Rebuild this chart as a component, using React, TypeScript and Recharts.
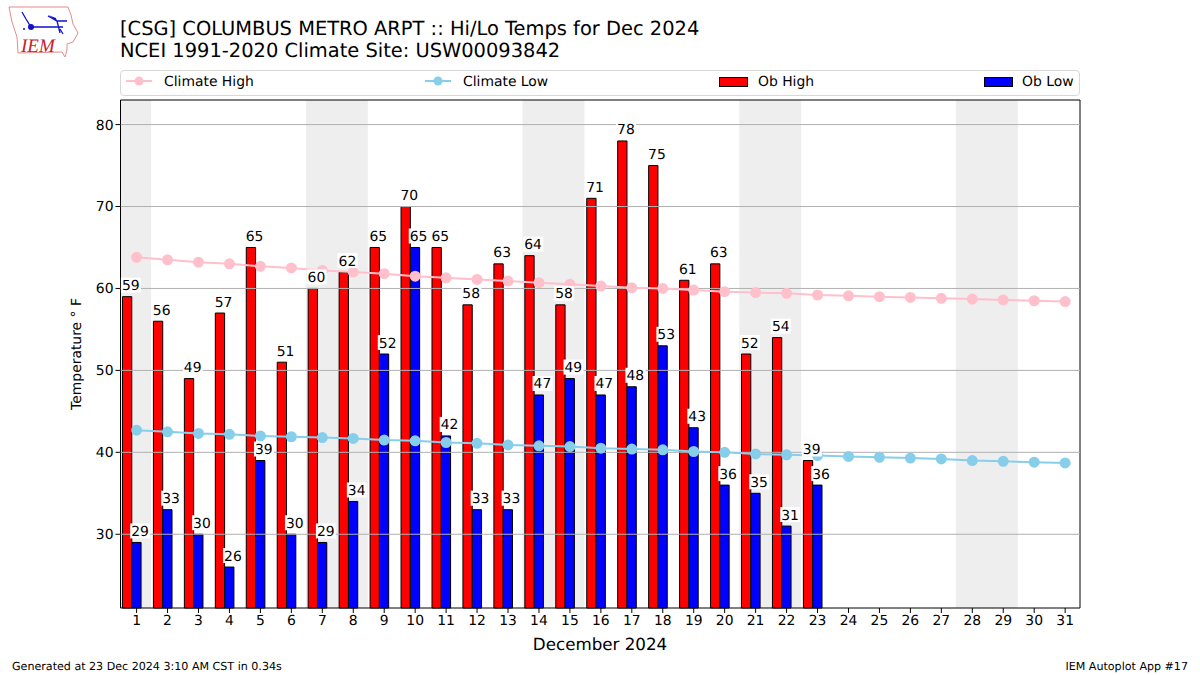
import { ComposedChart, Bar, Line, XAxis, YAxis, ReferenceArea, ReferenceLine, LabelList, Rectangle } from "recharts";

const FONT = "'DejaVu Sans', sans-serif";

const days = Array.from({ length: 31 }, (_, i) => i + 1);
const obHigh = [59, 56, 49, 57, 65, 51, 60, 62, 65, 70, 65, 58, 63, 64, 58, 71, 78, 75, 61, 63, 52, 54, 39];
const obLow = [29, 33, 30, 26, 39, 30, 29, 34, 52, 65, 42, 33, 33, 47, 49, 47, 48, 53, 43, 36, 35, 31, 36];
const climateHigh = [63.8, 63.5, 63.2, 63.0, 62.7, 62.5, 62.2, 62.0, 61.8, 61.5, 61.3, 61.1, 60.9, 60.7, 60.5, 60.3, 60.1, 60.0, 59.8, 59.6, 59.5, 59.4, 59.2, 59.1, 59.0, 58.9, 58.8, 58.7, 58.6, 58.5, 58.4];
const climateLow = [42.7, 42.5, 42.3, 42.2, 42.0, 41.9, 41.8, 41.7, 41.5, 41.4, 41.2, 41.1, 40.9, 40.8, 40.7, 40.5, 40.4, 40.3, 40.1, 40.0, 39.8, 39.7, 39.6, 39.5, 39.4, 39.3, 39.2, 39.0, 38.9, 38.8, 38.7];
const yTicks = [30, 40, 50, 60, 70, 80];
const weekends = [[0.48, 1.47], [6.47, 8.47], [13.47, 15.47], [20.47, 22.47], [27.47, 29.47]];

const data = days.map((d, i) => ({
  day: d,
  obHigh: obHigh[i],
  obLow: obLow[i],
  climateHigh: climateHigh[i],
  climateLow: climateLow[i],
}));

const BAR_W = 9.3;
const X_MIN = 0.48;
const X_MAX = 31.48;

// both bars sit one half-width left of the group centre, like the original
const ShiftedBar = (props: any) => <Rectangle {...props} x={props.x - BAR_W / 2} />;

const barLabel = (dx: number) => (props: any) => {
  const { x, y, value } = props;
  if (value == null) return null;
  const left = x + dx;
  return (
    <g>
      <rect x={left - 1} y={y - 19} width={20} height={15} fill="#fff" />
      <text x={left} y={y - 6.5} fontSize={13.9} fontFamily={FONT} fill="#000">{value}</text>
    </g>
  );
};

const Logo = () => (
  <svg width={80} height={60} style={{ position: "absolute", left: 0, top: 0 }}>
    <path d="M9 7 L68 7 L71 15 L73 24 L78 33 L73 42 L67 44 L67 50 L65 57 L62 52 L18 53 L17 37 L12 22 Z" fill="none" stroke="#e88a8a" strokeWidth={1} />
    <path d="M22 12 L26 19 L31 27 L63 27 M48 16 L57 21 L67 21 M57 21 L60 33 M60 29 L63 34" fill="none" stroke="#1010d0" strokeWidth={1.3} />
    <path d="M48 15 L56 18 L57 21 Z" fill="#1010d0" />
    <circle cx={31} cy={27} r={3} fill="#1010d0" />
    <circle cx={24} cy={29} r={1} fill="#1010d0" />
    <text x={21} y={52} fontFamily="'Liberation Serif', serif" fontStyle="italic" fontSize={19} fill="#c8202a">IEM</text>
  </svg>
);

const legendText = { position: "absolute", top: 74, fontSize: 13.9, fontFamily: FONT, lineHeight: "17px", whiteSpace: "pre" } as const;

const LegendLine = ({ left, color }: { left: number; color: string }) => (
  <svg width={30} height={14} style={{ position: "absolute", left, top: 74 }}>
    <line x1={1} x2={27} y1={7} y2={7} stroke={color} strokeWidth={2} />
    <circle cx={14} cy={7} r={4.5} fill={color} />
  </svg>
);

const LegendBox = ({ left, color }: { left: number; color: string }) => (
  <div style={{ position: "absolute", left, top: 77, width: 27, height: 8, background: color, border: "1px solid #000" }} />
);

export default function App() {
  return (
    <div style={{ position: "absolute", left: 0, top: 0, width: 1200, height: 675, background: "#fff", overflow: "hidden", fontFamily: FONT, textRendering: "geometricPrecision" }}>
      <Logo />
      <div style={{ position: "absolute", left: 120, top: 18, fontSize: 19.45, lineHeight: "22px", whiteSpace: "pre", color: "#000" }}>
        {"[CSG] COLUMBUS METRO ARPT :: Hi/Lo Temps for Dec 2024\nNCEI 1991-2020 Climate Site: USW00093842"}
      </div>

      <div style={{ position: "absolute", left: 120, top: 70, width: 958, height: 24, border: "1px solid #d8d8d8", borderRadius: 4 }} />
      <LegendLine left={125} color="#ffc0cb" />
      <div style={{ ...legendText, left: 164 }}>Climate High</div>
      <LegendLine left={424} color="#87ceeb" />
      <div style={{ ...legendText, left: 463 }}>Climate Low</div>
      <LegendBox left={719} color="#ff0000" />
      <div style={{ ...legendText, left: 758 }}>Ob High</div>
      <LegendBox left={984} color="#0000ff" />
      <div style={{ ...legendText, left: 1022 }}>Ob Low</div>

      <ComposedChart
        width={1200}
        height={675}
        data={data}
        barGap={0}
        barSize={BAR_W}
        margin={{ top: 100, right: 120, bottom: 37, left: 60 }}
        style={{ position: "absolute", left: 0, top: 0 }}
      >
        <XAxis
          dataKey="day"
          type="number"
          domain={[X_MIN, X_MAX]}
          ticks={days}
          interval={0}
          height={30}
          tickSize={5}
          axisLine={false}
          tick={{ fontSize: 13.9, fill: "#000", fontFamily: FONT }}
          tickLine={{ stroke: "#000" }}
        />
        <YAxis
          type="number"
          domain={[21, 83]}
          ticks={yTicks}
          width={60.5}
          tickSize={5}
          axisLine={false}
          tick={{ fontSize: 13.9, fill: "#000", fontFamily: FONT }}
          tickLine={{ stroke: "#000" }}
        />
        {weekends.map(([a, b]) => (
          <ReferenceArea key={a} x1={a} x2={b} y1={21} y2={83} fill="#eeeeee" fillOpacity={1} stroke="none" />
        ))}
        <Bar dataKey="obHigh" fill="#ff0000" stroke="#000" strokeWidth={1} isAnimationActive={false} shape={ShiftedBar} />
        <Bar dataKey="obLow" fill="#0000ff" stroke="#000" strokeWidth={1} isAnimationActive={false} shape={ShiftedBar} />
        {yTicks.map((t) => (
          <ReferenceLine key={t} y={t} stroke="#b0b0b0" strokeWidth={1} />
        ))}
        <Line dataKey="climateHigh" stroke="#ffc0cb" strokeWidth={2} dot={{ r: 4.5, fill: "#ffc0cb", stroke: "#ffc0cb" }} isAnimationActive={false} />
        <Line dataKey="climateLow" stroke="#87ceeb" strokeWidth={2} dot={{ r: 4.5, fill: "#87ceeb", stroke: "#87ceeb" }} isAnimationActive={false} />
        <Line dataKey="obHigh" stroke="none" dot={false} isAnimationActive={false}>
          <LabelList dataKey="obHigh" content={barLabel(-14.7)} />
        </Line>
        <Line dataKey="obLow" stroke="none" dot={false} isAnimationActive={false}>
          <LabelList dataKey="obLow" content={barLabel(-5.4)} />
        </Line>
        <ReferenceArea x1={X_MIN} x2={X_MAX} y1={21} y2={83} fill="none" stroke="#000" strokeWidth={1} />
      </ComposedChart>

      <div style={{ position: "absolute", left: 71, top: 354, fontSize: 13.9, whiteSpace: "pre", transform: "translate(-50%,-50%) rotate(-90deg)", transformOrigin: "center", marginLeft: 6 }}>
        Temperature ° F
      </div>
      <div style={{ position: "absolute", left: 0, width: 1200, textAlign: "center", top: 634, fontSize: 16.7, lineHeight: "20px" }}>December 2024</div>
      <div style={{ position: "absolute", left: 12, top: 660, fontSize: 11.1, lineHeight: "14px" }}>Generated at 23 Dec 2024 3:10 AM CST in 0.34s</div>
      <div style={{ position: "absolute", right: 12, top: 660, fontSize: 11.1, lineHeight: "14px" }}>IEM Autoplot App #17</div>
    </div>
  );
}
